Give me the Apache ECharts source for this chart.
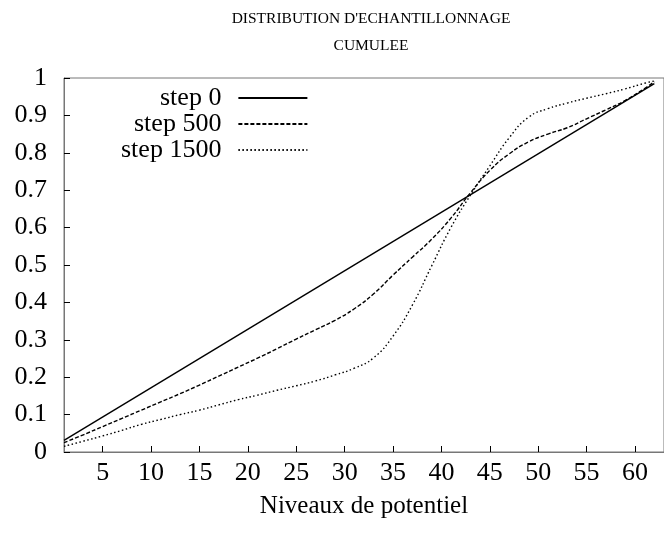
<!DOCTYPE html>
<html>
<head>
<meta charset="utf-8">
<script src="https://cdn.jsdelivr.net/npm/echarts@6/dist/echarts.min.js"></script>
<style>
  html, body { margin: 0; padding: 0; background: #fff; }
  #chart { width: 664px; height: 536px; }
</style>
</head>
<body>
<div id="chart"></div>
<script>
// niveaux
var step0Levels = [1, 62];
var step0Values = [0.031, 0.985];

var levels = [1, 3, 5, 7, 9, 11, 13, 15, 17, 19, 21, 23, 25, 27, 29, 31, 33, 35, 37, 39, 41, 43, 45, 47, 49, 51, 53, 55, 57, 59, 61, 62];
var step500Values = [0.025, 0.046, 0.068, 0.090, 0.112, 0.134, 0.156, 0.179, 0.203, 0.227, 0.251, 0.276, 0.302, 0.327, 0.352, 0.383,
	0.423, 0.473, 0.521, 0.569, 0.626, 0.693, 0.753, 0.797, 0.829, 0.850, 0.867, 0.891, 0.915, 0.940, 0.972, 0.990];
var step1500Values = [0.015, 0.029, 0.043, 0.058, 0.074, 0.087, 0.100, 0.112, 0.126, 0.140, 0.152, 0.165, 0.177, 0.190, 0.206, 0.224,
	0.252, 0.310, 0.393, 0.498, 0.601, 0.687, 0.765, 0.840, 0.895, 0.918, 0.933, 0.946, 0.958, 0.971, 0.986, 0.992];

var xTicks = [5, 10, 15, 20, 25, 30, 35, 40, 45, 50, 55, 60];
var seriesNames = ['step 0', 'step 500', 'step 1500'];

function pairs(xs, ys) {
	var out = [];
	for (var i = 0; i < xs.length; i++) {
		out.push([xs[i], ys[i]]);
	}
	return out;
}

var font = 'Liberation Serif';
var chart = echarts.init(document.getElementById('chart'));

var opt = {
	animation: false,
	backgroundColor: '#fff',
	title: {
		text: "DISTRIBUTION D'ECHANTILLONNAGE\nCUMULEE",
		left: 366,
		top: 0,
		textAlign: 'center',
		textStyle: {
			fontFamily: font,
			fontSize: 15.5,
			fontWeight: 'normal',
			color: '#000',
			lineHeight: 27
		}
	},
	legend: {
		data: seriesNames,
		orient: 'vertical',
		align: 'right',
		left: 121,
		top: 85,
		padding: 0,
		itemWidth: 69,
		itemHeight: 10,
		itemGap: 0,
		selectedMode: false,
		itemStyle: { opacity: 0 },
		textStyle: {
			fontFamily: font,
			fontSize: 26,
			lineHeight: 26,
			padding: [0, 12, 0, 0],
			color: '#000'
		}
	},
	grid: {
		show: true,
		left: 64,
		top: 78,
		right: -9,
		bottom: 84,
		borderColor: '#777',
		borderWidth: 1
	},
	xAxis: {
		type: 'value',
		min: 1,
		max: 63,
		name: 'Niveaux de potentiel',
		nameLocation: 'middle',
		nameGap: 42,
		nameTextStyle: {
			fontFamily: font,
			fontSize: 25,
			color: '#000'
		},
		axisLine: { lineStyle: { color: '#777', width: 1 } },
		axisTick: {
			inside: true,
			length: 6,
			customValues: xTicks,
			lineStyle: { color: '#000', width: 1 }
		},
		axisLabel: {
			customValues: xTicks,
			margin: 8,
			fontFamily: font,
			fontSize: 26,
			color: '#000'
		},
		splitLine: { show: false }
	},
	yAxis: {
		type: 'value',
		min: 0,
		max: 1,
		interval: 0.1,
		axisLine: { show: true, lineStyle: { color: '#777', width: 1 } },
		axisTick: {
			show: true,
			inside: true,
			length: 6,
			lineStyle: { color: '#000', width: 1 }
		},
		axisLabel: {
			margin: 17,
			fontFamily: font,
			fontSize: 26,
			color: '#000'
		},
		splitLine: { show: false }
	},
	series: [
		{
			name: seriesNames[0],
			type: 'line',
			symbol: 'none',
			color: '#000',
			lineStyle: { color: '#000', width: 1.4, type: 'solid' },
			data: pairs(step0Levels, step0Values)
		},
		{
			name: seriesNames[1],
			type: 'line',
			symbol: 'none',
			smooth: true,
			color: '#000',
			lineStyle: { color: '#000', width: 1.4, type: [4, 2] },
			data: pairs(levels, step500Values)
		},
		{
			name: seriesNames[2],
			type: 'line',
			symbol: 'none',
			smooth: true,
			color: '#000',
			lineStyle: { color: '#000', width: 1.4, type: [1.5, 2.5] },
			data: pairs(levels, step1500Values)
		}
	]
};

chart.setOption(opt);
</script>
</body>
</html>
